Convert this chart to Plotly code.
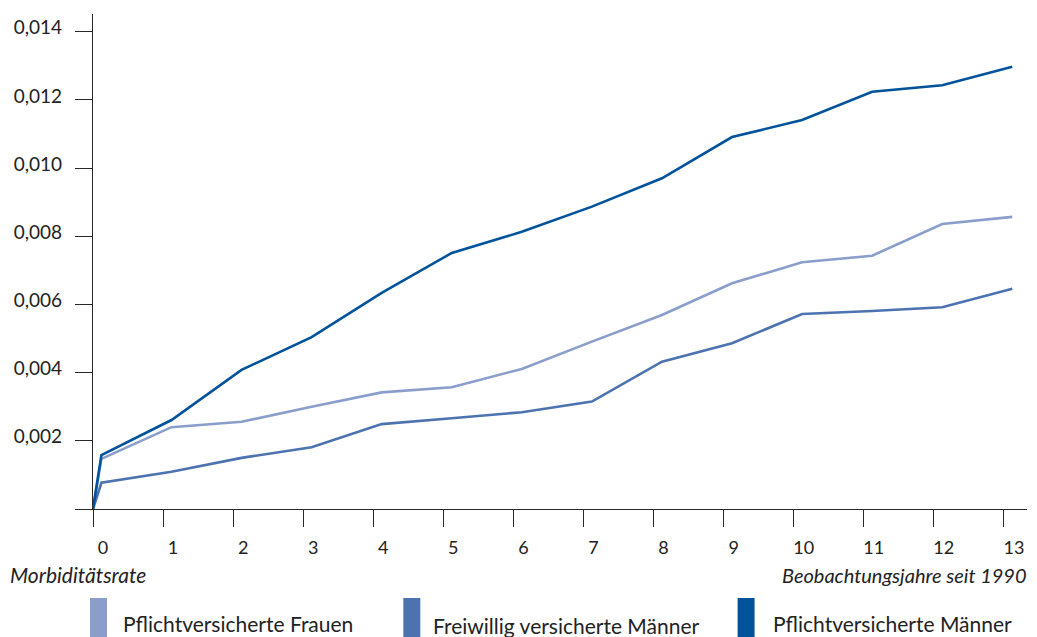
import plotly.graph_objects as go

# ---- data ----
years = list(range(0, 14))
tick_labels = [str(y) for y in years]
y_tick_vals = [0, 0.002, 0.004, 0.006, 0.008, 0.010, 0.012, 0.014]
y_tick_text = ["", "0,002", "0,004", "0,006", "0,008", "0,010", "0,012", "0,014"]

series_names = ["Pflichtversicherte Frauen", "Freiwillig versicherte Männer", "Pflichtversicherte Männer"]
frauen_pflicht = [0.00147, 0.00240, 0.00256, 0.00300, 0.00342, 0.00357, 0.00411,
                  0.00491, 0.00569, 0.00662, 0.00724, 0.00743, 0.00836, 0.00857]
maenner_freiwillig = [0.00077, 0.00109, 0.00150, 0.00181, 0.00249, 0.00266, 0.00284,
                      0.00315, 0.00432, 0.00486, 0.00572, 0.00581, 0.00592, 0.00646]
maenner_pflicht = [0.00158, 0.00261, 0.00408, 0.00504, 0.00634, 0.00751, 0.00813,
                   0.00887, 0.00970, 0.01091, 0.01141, 0.01224, 0.01243, 0.01297]
colors = ["#8a9dcb", "#4d72b0", "#00529b"]

y_title = "Morbiditätsrate"
x_title = "Beobachtungsjahre seit 1990"

# ---- layout geometry (window pixels; the page body adds an 8px margin) ----
PAGE_PAD = 8
WIN_W, WIN_H = 1037, 637
W, H = WIN_W - PAGE_PAD, WIN_H - PAGE_PAD
PLOT_L, PLOT_R, PLOT_T, PLOT_B = 91, 1027, 14, 509
L, R, T, B = PLOT_L - PAGE_PAD, WIN_W - PLOT_R, PLOT_T - PAGE_PAD, WIN_H - PLOT_B
PW, PH = PLOT_R - PLOT_L, PLOT_B - PLOT_T
FONT = "Lato"
OFFSET = 0.12  # points sit slightly right of the year ticks


def px(x):
    return (x - PLOT_L) / PW


def py(y):
    return (PLOT_B - y) / PH


fig = go.Figure()
for name, vals, col in zip(series_names, [frauen_pflicht, maenner_freiwillig, maenner_pflicht], colors):
    fig.add_trace(go.Scatter(
        x=[0] + [y + OFFSET for y in years],
        y=[0] + vals,
        mode="lines",
        name=name,
        line=dict(color=col, width=2.6),
        showlegend=False,
    ))

axis_color = "#2a2a2a"
fig.update_xaxes(
    range=[0, 13.33], tickvals=years, ticktext=tick_labels,
    showline=True, linecolor=axis_color, linewidth=1.3,
    ticks="outside", ticklen=17, tickwidth=1.3, tickcolor=axis_color,
    showgrid=False, zeroline=False,
    tickfont=dict(family=FONT, size=18, color="#222"),
    ticklabelshift=10, ticklabelstandoff=5,
)
fig.update_yaxes(
    range=[0, 0.01452], tickvals=y_tick_vals, ticktext=y_tick_text,
    showline=True, linecolor=axis_color, linewidth=1.3,
    ticks="outside", ticklen=17, tickwidth=1.3, tickcolor=axis_color,
    showgrid=False, zeroline=False,
    tickfont=dict(family=FONT, size=19, color="#222"),
    ticklabelshift=-4, ticklabelstandoff=9,
)

annotations = [
    dict(x=px(6), y=py(589), xref="paper", yref="paper", text=y_title,
         xanchor="left", yanchor="bottom", showarrow=False,
         font=dict(family=FONT, size=21, color="#222", style="italic")),
    dict(x=px(1029), y=py(589), xref="paper", yref="paper", text=x_title,
         xanchor="right", yanchor="bottom", showarrow=False,
         font=dict(family=FONT, size=20, color="#222", style="italic")),
]
shapes = []
swatch_x = [88, 402, 737]
text_x = [121, 432, 772]
text_base = [632, 634, 632]
for sx, tx, tb, col, name in zip(swatch_x, text_x, text_base, colors, series_names):
    shapes.append(dict(type="rect", xref="paper", yref="paper",
                       x0=px(sx), x1=px(sx + 17), y0=py(637), y1=py(598),
                       fillcolor=col, line=dict(width=0)))
    annotations.append(dict(x=px(tx - 2), y=py(tb + 6), xref="paper", yref="paper", text=name,
                            xanchor="left", yanchor="bottom", showarrow=False,
                            font=dict(family=FONT, size=21, color="#222")))

fig.update_layout(
    width=W, height=H,
    margin=dict(l=L, r=R, t=T, b=B),
    paper_bgcolor="white", plot_bgcolor="white",
    shapes=shapes, annotations=annotations,
    showlegend=False,
)

fig.write_html("out.html")
